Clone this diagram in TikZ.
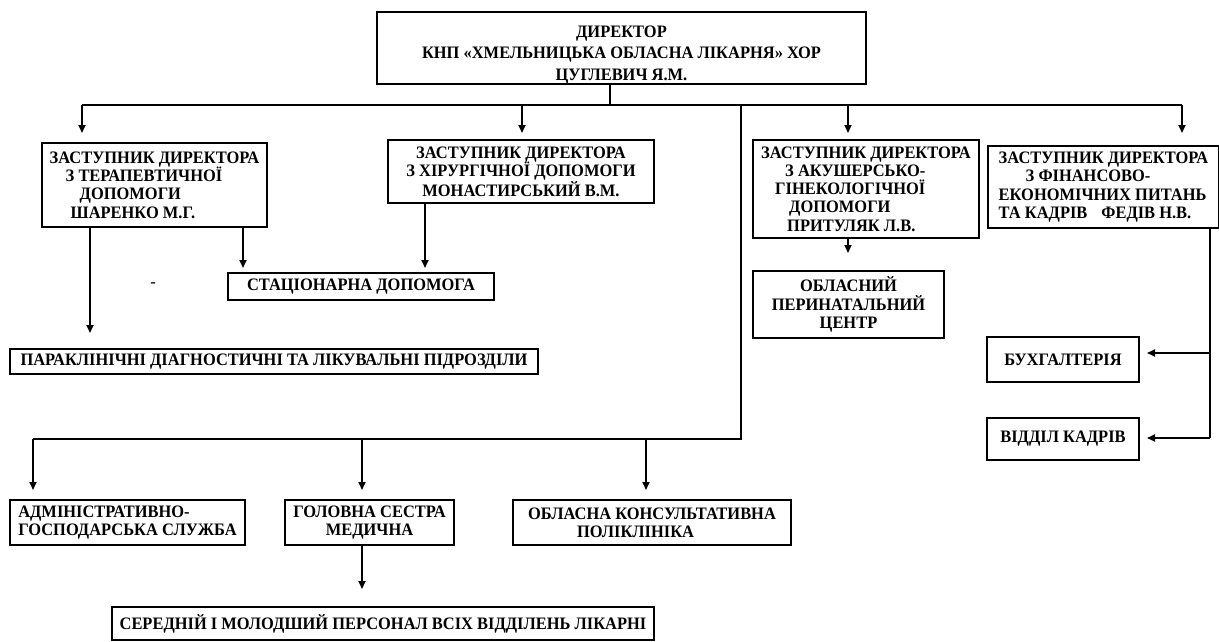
\documentclass[tikz,border=0pt]{standalone}
\usepackage{fontspec}
\setmainfont{Liberation Serif}[FakeStretch=0.94]
\usetikzlibrary{arrows.meta}

\begin{document}
\begin{tikzpicture}[x=1pt, y=-1pt,
        every node/.style={font=\bfseries\fontsize{17.5}{18.3}\selectfont},
        box/.style={draw, line width=2pt, anchor=north west, inner sep=0pt},
        link/.style={line width=1.7pt},
        arr/.style={line width=1.7pt, -{Triangle[length=8pt, width=7pt]}}]
      \useasboundingbox (0,0) rectangle (1219,642);
      \node[box, minimum width=489pt, minimum height=72pt, align=center,
            font=\bfseries\fontsize{17.5}{21.5}\selectfont] (dir) at (376,11)
        {\rule{0pt}{25pt}ДИРЕКТОР\\КНП «ХМЕЛЬНИЦЬКА ОБЛАСНА ЛІКАРНЯ» ХОР\\ЦУГЛЕВИЧ Я.М.};
      \node[box, minimum width=225pt, minimum height=84pt, align=left] (zt) at (41,142)
        {ЗАСТУПНИК ДИРЕКТОРА\\\hspace*{16pt}З ТЕРАПЕВТИЧНОЇ\\\hspace*{30pt}ДОПОМОГИ\\\hspace*{21pt}ШАРЕНКО М.Г.};
      \node[box, minimum width=266pt, minimum height=63pt, align=center] (zh) at (387,139)
        {ЗАСТУПНИК ДИРЕКТОРА\\З ХІРУРГІЧНОЇ ДОПОМОГИ\\МОНАСТИРСЬКИЙ В.М.};
      \node[box, minimum width=226pt, minimum height=98pt, align=left] (za) at (752,139)
        {ЗАСТУПНИК ДИРЕКТОРА\\\hspace*{24pt}З АКУШЕРСЬКО-\\\hspace*{14pt}ГІНЕКОЛОГІЧНОЇ\\\hspace*{28pt}ДОПОМОГИ\\\hspace*{26pt}ПРИТУЛЯК Л.В.};
      \node[box, minimum width=231pt, minimum height=82pt, align=left] (zf) at (987,145)
        {ЗАСТУПНИК ДИРЕКТОРА\\\hspace*{27pt}З ФІНАНСОВО-\\ЕКОНОМІЧНИХ ПИТАНЬ\\ТА КАДРІВ\hspace{14pt}ФЕДІВ Н.В.};
      \node[box, minimum width=266pt, minimum height=27pt] (stac) at (227,272) {СТАЦІОНАРНА ДОПОМОГА};
      \node[box, minimum width=528pt, minimum height=25pt] (para) at (9,348)
        {ПАРАКЛІНІЧНІ ДІАГНОСТИЧНІ ТА ЛІКУВАЛЬНІ ПІДРОЗДІЛИ};
      \node[box, minimum width=191pt, minimum height=67pt, align=center] (peri) at (752,270)
        {ОБЛАСНИЙ\\ПЕРИНАТАЛЬНИЙ\\ЦЕНТР};
      \node[box, minimum width=152pt, minimum height=45pt] (buh) at (986,336) {БУХГАЛТЕРІЯ};
      \node[box, minimum width=152pt, minimum height=42pt] (kadr) at (986,417) {ВІДДІЛ КАДРІВ};
      \node[box, minimum width=235pt, minimum height=45pt, align=left] (adm) at (9,499)
        {АДМІНІСТРАТИВНО-\\ГОСПОДАРСЬКА СЛУЖБА};
      \node[box, minimum width=169pt, minimum height=45pt, align=center] (gol) at (284,499)
        {ГОЛОВНА СЕСТРА\\МЕДИЧНА};
      \node[box, minimum width=278pt, minimum height=45pt, align=left] (kons) at (512,499)
        {ОБЛАСНА КОНСУЛЬТАТИВНА\\\hspace*{49pt}ПОЛІКЛІНІКА};
      \node[box, minimum width=542pt, minimum height=33pt] (ser) at (111,606)
        {СЕРЕДНІЙ І МОЛОДШИЙ ПЕРСОНАЛ ВСІХ ВІДДІЛЕНЬ ЛІКАРНІ};
      \node[font=\fontsize{17.5}{18.3}\selectfont] (dash) at (153,285) {-};
      \coordinate (hub) at (610,105);
      \coordinate (busL) at (82,105);
      \coordinate (busR) at (1182,105);
      \coordinate (t1) at (82,133);
      \coordinate (t2) at (522,133);
      \coordinate (t3) at (848,133);
      \coordinate (t4) at (1182,133);
      \coordinate (drop) at (741,105);
      \coordinate (bus2R) at (741,439);
      \coordinate (bus2L) at (33,439);
      \coordinate (b1) at (33,490);
      \coordinate (b2) at (362,490);
      \coordinate (b3) at (646,490);
      \coordinate (p1) at (90,333);
      \coordinate (s1) at (243,268);
      \coordinate (s2) at (425,268);
      \coordinate (o1) at (848,253);
      \coordinate (fin) at (1210,438);
      \coordinate (k1) at (1147,353);
      \coordinate (k2) at (1147,438);
      \coordinate (g1) at (362,589);
      \draw[link] (dir.south -| hub) -- (hub);
      \draw[link] (busL) -- (busR);
      \foreach \t in {t1,t2,t3,t4}
        \draw[arr] (\t |- busL) -- (\t);
      \draw[link] (drop) -- (bus2R) -- (bus2L);
      \foreach \t in {b1,b2,b3}
        \draw[arr] (\t |- bus2L) -- (\t);
      \draw[arr] (p1 |- zt.south) -- (p1);
      \draw[arr] (s1 |- zt.south) -- (s1);
      \draw[arr] (s2 |- zh.south) -- (s2);
      \draw[arr] (o1 |- za.south) -- (o1);
      \draw[link] (fin |- zf.south) -- (fin);
      \draw[arr] (k1 -| fin) -- (k1);
      \draw[arr] (fin) -- (k2);
      \draw[arr] (g1 |- gol.south) -- (g1);
    \end{tikzpicture}
\end{document}
